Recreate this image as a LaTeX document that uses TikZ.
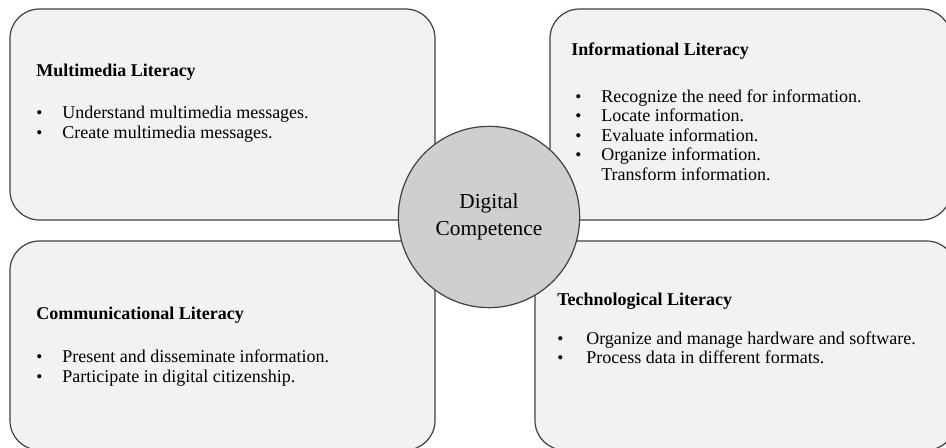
\documentclass[tikz,border=0pt]{standalone}
\usepackage{fontspec}
\setmainfont{Liberation Serif}
\usepackage{tikz}

\begin{document}
\begin{tikzpicture}[
        x=0.75pt, y=-0.75pt,
        litbox/.style={draw=black!75, line width=0.9pt, fill=black!5, rounded corners=22pt},
        head/.style={anchor=base west, inner sep=0pt, font=\fontsize{13.5}{15}\selectfont\bfseries},
        item/.style={anchor=base west, inner sep=0pt, font=\fontsize{13.5}{15}\selectfont},
        dot/.style={anchor=base west, inner sep=0pt, font=\fontsize{13}{15}\selectfont}
    ]
    \clip (0,0) rectangle (946,447);

    \draw[litbox] (10,9) rectangle (435,220);
    \draw[litbox] (550,9) rectangle (951,220);
    \draw[litbox] (10,241) rectangle (435,450);
    \draw[litbox] (535,241) rectangle (956,450);

    \node[head] (mmhead) at (36,76) {Multimedia Literacy};
    \node[dot] (mmdota) at (36,118) {•};
    \node[item] (mma) at (62,118) {Understand multimedia messages.};
    \node[dot] (mmdotb) at (36,138) {•};
    \node[item] (mmb) at (62,138) {Create multimedia messages.};

    \node[head] (inhead) at (571,55) {Informational Literacy};
    \node[dot] (indota) at (575,102) {•};
    \node[item] (ina) at (601,102) {Recognize the need for information.};
    \node[dot] (indotb) at (575,121) {•};
    \node[item] (inb) at (601,121) {Locate information.};
    \node[dot] (indotc) at (575,141) {•};
    \node[item] (inc) at (601,141) {Evaluate information.};
    \node[dot] (indotd) at (575,160) {•};
    \node[item] (ind) at (601,160) {Organize information.};
    \node[item] (ine) at (601,180) {Transform information.};

    \node[head] (cmhead) at (36,319) {Communicational Literacy};
    \node[dot] (cmdota) at (36,362) {•};
    \node[item] (cma) at (62,362) {Present and disseminate information.};
    \node[dot] (cmdotb) at (36,382) {•};
    \node[item] (cmb) at (62,382) {Participate in digital citizenship.};

    \node[head] (tchead) at (557,305) {Technological Literacy};
    \node[dot] (tcdota) at (557,344) {•};
    \node[item] (tca) at (586,344) {Organize and manage hardware and software.};
    \node[dot] (tcdotb) at (557,363) {•};
    \node[item] (tcb) at (586,363) {Process data in different formats.};

    % centre circle
    \node[circle, draw=black!75, line width=0.9pt, fill=black!19, minimum size=136pt,
          align=center, font=\fontsize{16}{20}\selectfont] (dc) at (489,217) {Digital\\Competence};
\end{tikzpicture}
\end{document}
